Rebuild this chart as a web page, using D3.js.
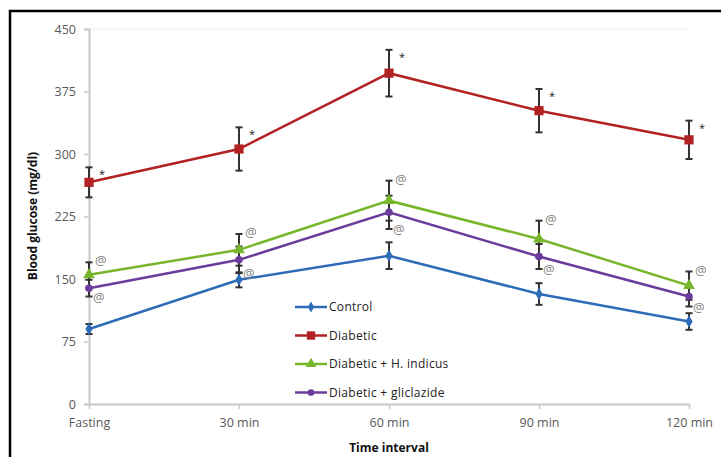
<!DOCTYPE html>
<html><head><meta charset="utf-8">
<script src="https://cdn.jsdelivr.net/npm/d3@7"></script>
<style>body{margin:0;background:#fff;} svg{display:block;}</style>
</head><body>
<svg id="c" width="721" height="457"></svg>
<script>
const categories = ["Fasting", "30 min", "60 min", "90 min", "120 min"];
const seriesNames = ["Control", "Diabetic", "Diabetic + H. indicus", "Diabetic + gliclazide"];
const controlVals = [90, 149, 178, 132, 99];
const controlErr = [6, 9, 16, 13, 10];
const diabeticVals = [266, 306, 397, 352, 317];
const diabeticErr = [18, 26, 28, 26, 23];
const indicusVals = [155, 185, 244, 198, 142];
const indicusErr = [15, 19, 24, 22, 17];
const gliclazideVals = [139, 173, 230, 177, 129];
const gliclazideErr = [10, 16, 20, 15, 12];
const yTicks = [0, 75, 150, 225, 300, 375, 450];
const diabeticMark = "*";
const treatMark = "@";

const colors = ["#2e6cb8", "#b22222", "#77b52b", "#6a3c9c"];
const shapes = [d3.symbolDiamond, d3.symbolSquare, d3.symbolTriangle, d3.symbolCircle];
const series = [
  {name: seriesNames[0], vals: controlVals, err: controlErr},
  {name: seriesNames[1], vals: diabeticVals, err: diabeticErr},
  {name: seriesNames[2], vals: indicusVals, err: indicusErr},
  {name: seriesNames[3], vals: gliclazideVals, err: gliclazideErr}
];

const svg = d3.select("#c");
const font = "'Open Sans', Lato, sans-serif";

// outer frame (only top and left visible)
svg.append("rect").attr("x", 10).attr("y", 11).attr("width", 760).attr("height", 500)
  .attr("fill", "none").attr("stroke", "#000").attr("stroke-width", 2.5);

const x = d3.scalePoint().domain(categories).range([89, 689]);
const y = d3.scaleLinear().domain([0, 450]).range([404, 29]);

// faint top border of plot area
svg.append("line").attr("x1", 89).attr("x2", 689).attr("y1", y(450)).attr("y2", y(450))
  .attr("stroke", "#f0f0f0").attr("stroke-width", 1);

// y axis
const yAxis = svg.append("g").attr("transform", "translate(89,0)")
  .call(d3.axisLeft(y).tickValues(yTicks).tickSize(5).tickPadding(8));
yAxis.select(".domain").attr("stroke", "#c8c8c8").attr("stroke-width", 2);
yAxis.selectAll(".tick line").attr("stroke", "#c8c8c8").attr("stroke-width", 1.5);
yAxis.selectAll(".tick text").attr("fill", "#595959").style("font-family", font).style("font-size", "12.5px");

// x axis
const xAxis = svg.append("g").attr("transform", "translate(0,404)")
  .call(d3.axisBottom(x).tickSize(5).tickSizeOuter(0).tickPadding(9));
xAxis.select(".domain").attr("stroke", "#c8c8c8").attr("stroke-width", 2);
xAxis.selectAll(".tick line").attr("stroke", "#c8c8c8").attr("stroke-width", 1.5);
xAxis.selectAll(".tick text").attr("fill", "#595959").style("font-family", font).style("font-size", "12.5px");

// axis titles
svg.append("text").attr("x", 389).attr("y", 452).attr("text-anchor", "middle")
  .style("font-family", font).style("font-size", "12px").style("font-weight", "bold").attr("fill", "#111")
  .text("Time interval");
svg.append("text").attr("transform", "translate(37,216) rotate(-90)").attr("text-anchor", "middle")
  .style("font-family", font).style("font-size", "12px").style("font-weight", "bold").attr("fill", "#111")
  .text("Blood glucose (mg/dl)");

const line = d3.line().x((d, i) => x(categories[i])).y(d => y(d));

// error bars
series.forEach(s => {
  const g = svg.append("g");
  s.vals.forEach((v, i) => {
    const cx = x(categories[i]);
    const top = y(v + s.err[i]), bot = y(v - s.err[i]);
    g.append("line").attr("x1", cx).attr("x2", cx).attr("y1", top).attr("y2", bot)
      .attr("stroke", "#333").attr("stroke-width", 2);
    [top, bot].forEach(yy => g.append("line").attr("x1", cx - 3.5).attr("x2", cx + 3.5)
      .attr("y1", yy).attr("y2", yy).attr("stroke", "#333").attr("stroke-width", 2));
  });
});

// lines and markers
series.forEach((s, k) => {
  svg.append("path").datum(s.vals).attr("d", line).attr("fill", "none")
    .attr("stroke", colors[k]).attr("stroke-width", 2.5);
  const size = k === 1 ? 85 : (k === 2 ? 60 : 45);
  svg.append("g").selectAll("path").data(s.vals).join("path")
    .attr("transform", (d, i) => `translate(${x(categories[i])},${y(d)})`)
    .attr("d", d3.symbol().type(shapes[k]).size(size)).attr("fill", colors[k]);
});

// annotations
diabeticVals.forEach((v, i) => {
  svg.append("text").attr("x", x(categories[i]) + 10).attr("y", y(v + diabeticErr[i]) + 11)
    .style("font-family", font).style("font-size", "11px").attr("fill", "#222").text(diabeticMark);
});
indicusVals.forEach((v, i) => {
  svg.append("text").attr("x", x(categories[i]) + 6).attr("y", y(v + indicusErr[i]) + 3)
    .style("font-family", font).style("font-size", "13px").attr("fill", "#808080").text(treatMark);
});
gliclazideVals.forEach((v, i) => {
  svg.append("text").attr("x", x(categories[i]) + 4).attr("y", y(v - gliclazideErr[i]) + 5)
    .style("font-family", font).style("font-size", "13px").attr("fill", "#808080").text(treatMark);
});

// legend
const leg = svg.append("g");
series.forEach((s, k) => {
  const ly = 307 + k * 28.5;
  leg.append("line").attr("x1", 295).attr("x2", 327).attr("y1", ly).attr("y2", ly)
    .attr("stroke", colors[k]).attr("stroke-width", 2.5);
  const size = k === 1 ? 70 : (k === 2 ? 50 : 35);
  leg.append("path").attr("transform", `translate(311,${ly})`)
    .attr("d", d3.symbol().type(shapes[k]).size(size)).attr("fill", colors[k]);
  leg.append("text").attr("x", 329).attr("y", ly + 4)
    .style("font-family", font).style("font-size", "12px").style("letter-spacing", "0.3px")
    .attr("fill", "#222").text(s.name);
});
</script>
</body></html>
